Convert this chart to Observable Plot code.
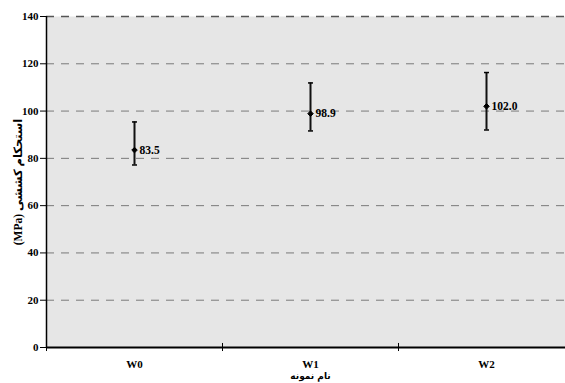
<!DOCTYPE html>
<html><head><meta charset="utf-8">
<script src="https://cdn.jsdelivr.net/npm/d3@7"></script>
<script src="https://cdn.jsdelivr.net/npm/@observablehq/plot@0.6"></script>
<style>
html,body{margin:0;padding:0;background:#fff;overflow:hidden;width:565px;height:383px;}
svg{font-family:"Liberation Serif","DejaVu Serif",serif;max-width:none !important;height:383px !important;display:block;}
</style></head>
<body><div id="chart"></div>
<script>
const categories = ["W0", "W1", "W2"];
const means = [83.5, 98.9, 102.0];
const lows = [77.2, 91.6, 92.0];
const highs = [95.4, 111.9, 116.3];
const labels = ["83.5", "98.9", "102.0"];
const yTicks = [0, 20, 40, 60, 80, 100, 120, 140];
const xTitle = "نام نمونه";
const yTitle = "(MPa) استحکام کششی";

const data = categories.map((c, i) => ({cat: c, pos: i + 0.5, mean: means[i], lo: lows[i], hi: highs[i], label: labels[i]}));
const boundaries = categories.map((c, i) => i);

const capSymbol = {draw(ctx, size) { const r = Math.sqrt(size / Math.PI); ctx.moveTo(-r, 0); ctx.lineTo(r, 0); }};

const chart = Plot.plot({
  width: 575, height: 383,
  marginLeft: 46, marginRight: 1, marginTop: 16, marginBottom: 36,
  x: {domain: [0, 3], axis: null},
  y: {domain: [0, 140], axis: null},
  style: {fontFamily: "'Liberation Serif', 'DejaVu Serif', serif", background: "transparent"},
  marks: [
    Plot.frame({fill: "#e6e6e6", stroke: null}),
    Plot.ruleY(yTicks.filter(d => d > 0 && d < 140), {stroke: "#7a7a7a", strokeDasharray: "8,7", strokeWidth: 1}),
    Plot.ruleY([140], {stroke: "#555", strokeDasharray: "8,7", strokeWidth: 1.5}),
    Plot.axisY({ticks: yTicks, tickSize: 6, tickPadding: 2, fontWeight: "bold", fontSize: 11, stroke: "#000", color: "#000"}),
    Plot.ruleX([0], {stroke: "#000", strokeWidth: 1.5}),
    Plot.ruleY([0], {stroke: "#000", strokeWidth: 2}),
    Plot.ruleX(boundaries, {x: d => d, y1: -1.7, y2: 1.7, stroke: "#000", clip: false}),
    Plot.text(data, {x: "pos", y: 0, text: "cat", dy: 17, fontWeight: "bold", fontSize: 11, fill: "#000"}),
    Plot.text([xTitle], {x: 1.5, y: 0, text: d => d, dy: 29, fontWeight: "bold", fontSize: 9, fill: "#000", fontFamily: "'DejaVu Sans', sans-serif"}),
    Plot.text([yTitle], {frameAnchor: "left", textAnchor: "middle", dx: -28, rotate: -90, text: d => d, fontWeight: "bold", fontSize: 11.5, fill: "#000", fontFamily: "'Liberation Serif', 'DejaVu Sans', serif"}),
    Plot.ruleX(data, {x: "pos", y1: "lo", y2: "hi", stroke: "#111", strokeWidth: 2}),
    Plot.dot(data, {x: "pos", y: "hi", symbol: capSymbol, r: 2.5, stroke: "#000", strokeWidth: 1.5}),
    Plot.dot(data, {x: "pos", y: "lo", symbol: capSymbol, r: 2.5, stroke: "#000", strokeWidth: 1.5}),
    Plot.dot(data, {x: "pos", y: "mean", symbol: "diamond2", r: 2.5, fill: "#000", stroke: "#000", strokeWidth: 1}),
    Plot.text(data, {x: "pos", y: "mean", text: "label", dx: 5, textAnchor: "start", fontWeight: "bold", fontSize: 11.5, fill: "#000"})
  ]
});
document.getElementById("chart").appendChild(chart);
</script></body></html>
